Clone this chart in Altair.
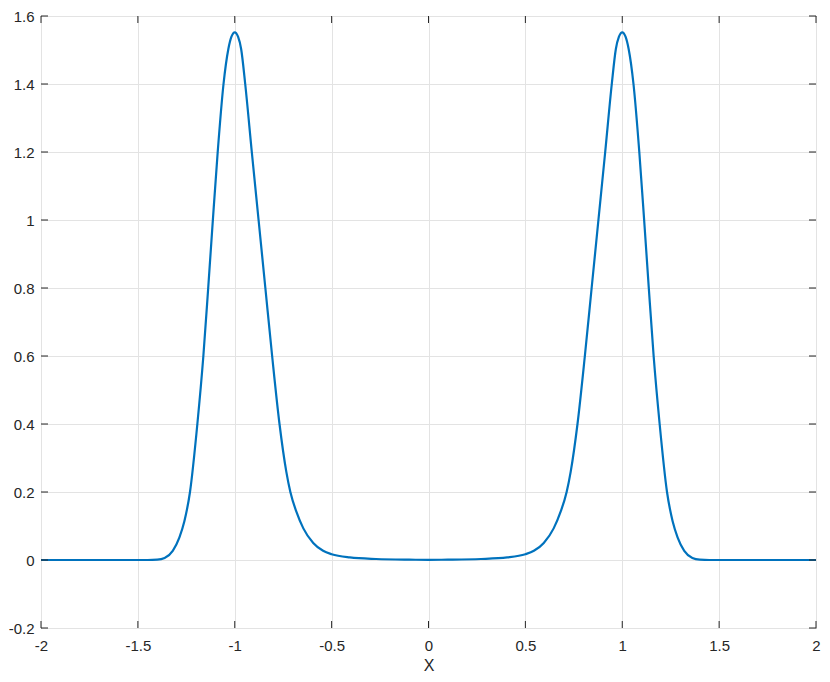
import altair as alt
import pandas as pd

# curve
curve_x = [-2.0, -1.8, -1.6, -1.5, -1.45, -1.40, -1.362, -1.32, -1.286, -1.260, -1.231,
           -1.193, -1.162, -1.137, -1.113, -1.088, -1.058, -1.033, -1.017, -1.0,
           -0.983, -0.967, -0.946, -0.912, -0.877, -0.842, -0.807, -0.769, -0.734,
           -0.713, -0.682, -0.646, -0.595, -0.544, -0.5, -0.406, -0.271, -0.10, 0.0,
           0.10, 0.271, 0.406, 0.5, 0.544, 0.595, 0.646, 0.682, 0.713, 0.734,
           0.769, 0.807, 0.842, 0.877, 0.912, 0.946, 0.967, 0.983, 1.0,
           1.017, 1.033, 1.058, 1.088, 1.113, 1.137, 1.162, 1.193, 1.231,
           1.260, 1.286, 1.32, 1.362, 1.40, 1.45, 1.5, 1.6, 1.8, 2.0]
curve_y = [0.0, 0.0, 0.0, 0.0, 0.0, 0.001, 0.006, 0.027, 0.066, 0.114, 0.20,
           0.40, 0.60, 0.80, 1.00, 1.20, 1.40, 1.503, 1.539, 1.552,
           1.539, 1.503, 1.40, 1.20, 1.00, 0.80, 0.60, 0.40, 0.26,
           0.20, 0.142, 0.093, 0.050, 0.027, 0.017, 0.0076, 0.003, 0.001, 0.0005,
           0.001, 0.003, 0.0076, 0.017, 0.027, 0.050, 0.093, 0.142, 0.20, 0.26,
           0.40, 0.60, 0.80, 1.00, 1.20, 1.40, 1.503, 1.539, 1.552,
           1.539, 1.503, 1.40, 1.20, 1.00, 0.80, 0.60, 0.40, 0.20,
           0.114, 0.066, 0.027, 0.006, 0.001, 0.0, 0.0, 0.0, 0.0, 0.0]

x_ticks = [-2, -1.5, -1, -0.5, 0, 0.5, 1, 1.5, 2]
y_ticks = [-0.2, 0, 0.2, 0.4, 0.6, 0.8, 1, 1.2, 1.4, 1.6]

W, H = 775, 612
TICK = 7
AX = "#262626"
FONT = "Liberation Sans"

xscale = alt.Scale(domain=[-2, 2], nice=False, zero=False)
yscale = alt.Scale(domain=[-0.2, 1.6], nice=False, zero=False)

x_axis = alt.Axis(values=x_ticks, labelExpr="'' + datum.value", grid=True,
                  gridColor="#e3e3e3", domain=False, ticks=False, tickSize=0,
                  labelPadding=10, labelFontSize=15, labelFont=FONT, labelColor=AX,
                  titleFont=FONT, titleFontSize=16, titleFontWeight="normal",
                  titleColor=AX, titlePadding=4, labelFlush=False)
y_axis = alt.Axis(values=y_ticks, labelExpr="'' + datum.value", grid=True,
                  gridColor="#e3e3e3", domain=False, ticks=False, tickSize=0,
                  labelPadding=7, labelFontSize=15, labelFont=FONT, labelColor=AX,
                  labelFlush=False)

df = pd.DataFrame({"x": curve_x, "y": curve_y})
xt = pd.DataFrame({"x": x_ticks})
yt = pd.DataFrame({"y": y_ticks})

line = alt.Chart(df).mark_line(color="#0072BD", strokeWidth=2.2, interpolate="monotone").encode(
    x=alt.X("x:Q", scale=xscale, title="X", axis=x_axis),
    y=alt.Y("y:Q", scale=yscale, title=None, axis=y_axis),
)

bt = alt.Chart(xt).mark_rule(color=AX, strokeWidth=1).encode(
    x=alt.X("x:Q", scale=xscale, title="X", axis=x_axis), y=alt.value(H), y2=alt.value(H - TICK))
tt = alt.Chart(xt).mark_rule(color=AX, strokeWidth=1).encode(
    x=alt.X("x:Q", scale=xscale, title="X", axis=x_axis), y=alt.value(0), y2=alt.value(TICK))
lt = alt.Chart(yt).mark_rule(color=AX, strokeWidth=1).encode(
    y=alt.Y("y:Q", scale=yscale, title=None, axis=y_axis), x=alt.value(0), x2=alt.value(TICK))
rt = alt.Chart(yt).mark_rule(color=AX, strokeWidth=1).encode(
    y=alt.Y("y:Q", scale=yscale, title=None, axis=y_axis), x=alt.value(W), x2=alt.value(W - TICK))

chart = alt.layer(line, bt, tt, lt, rt).properties(
    width=W, height=H,
    background="white",
    autosize=alt.AutoSizeParams(type="none"),
    padding={"left": 33, "top": 8, "right": 6, "bottom": 44},
).configure_view(stroke=AX, strokeWidth=1)

chart.save("out.html", embed_options={"renderer": "svg", "actions": False})
